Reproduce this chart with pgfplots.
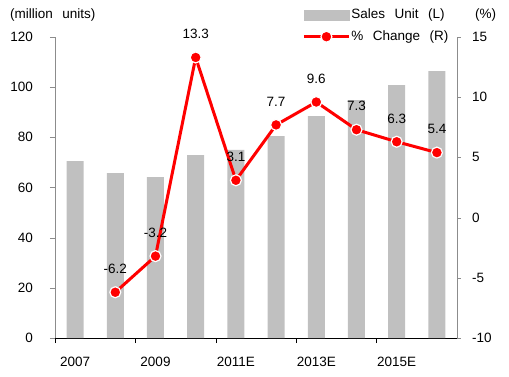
\documentclass[border=0pt]{standalone}
\usepackage{pgfplots}
\pgfplotsset{compat=1.18}
\usepackage{fontspec}
\setmainfont{Liberation Sans}
\definecolor{barcol}{HTML}{C0C0C0}
\definecolor{axgray}{HTML}{8C8C8C}
\newcommand{\ws}{\hspace{0.7em}}
\pgfplotsset{my line legend/.style={legend image code/.code={\draw[mark repeat=2, mark phase=2, ##1] plot coordinates {(0pt,0pt) (22.5pt,0pt) (45pt,0pt)};}}}
\begin{document}
\fontsize{13.5}{16}\selectfont
\begin{tikzpicture}
\begin{axis}[
  name=ax,
  scale only axis, width=402pt, height=301pt,
  xmin=-0.5, xmax=9.5, ymin=0, ymax=120,
  axis x line*=bottom, axis y line*=left,
  x axis line style={black, -}, y axis line style={axgray, -},
  ytick={0,20,...,120},
  xtick={0,2,4,6,8}, xticklabels={2007,2009,2011E,2013E,2015E},
  minor xtick={-0.5,1.5,3.5,5.5,7.5},
  tick align=outside, major x tick style={draw=none},
  minor tick length=5pt, major tick length=5pt,
  minor x tick style={black},
  major y tick style={axgray},
  tick label style={font=\fontsize{13.5}{16}\selectfont},
  /pgf/number format/assume math mode=true,
  xticklabel style={anchor=north, inner sep=0pt, yshift=-14pt},
  yticklabel style={anchor=east, inner sep=0pt, xshift=-17pt},
  clip=false,
]
\addplot[ybar, bar width=17pt, fill=barcol, draw=none] coordinates {
 (0,70.5) (1,65.7) (2,64.1) (3,72.9) (4,75) (5,80.5) (6,88.5) (7,94.8) (8,100.8) (9,106.4)};
\end{axis}
\begin{axis}[
  scale only axis, width=402pt, height=301pt,
  xmin=-0.5, xmax=9.5, ymin=-10, ymax=15,
  axis x line=none, axis y line*=right,
  y axis line style={axgray, -},
  ytick={-10,-5,...,15},
  tick align=outside, major tick length=4pt,
  major y tick style={axgray},
  tick label style={font=\fontsize{13.5}{16}\selectfont},
  /pgf/number format/assume math mode=true,
  yticklabel style={anchor=west, inner sep=0pt, xshift=11pt},
  clip=false,
  legend style={draw=none, fill=none, at={(rel axis cs:0.615,1.097)}, anchor=north west,
    font=\fontsize{13.5}{16}\selectfont, row sep=8pt, inner sep=0pt,
    nodes={inner sep=1pt}},
  legend cell align=left,
]
\addlegendimage{legend image code/.code={\fill[barcol] (0pt,-5pt) rectangle (45pt,5pt);}}
\addlegendentry{Sales\ws Unit\ws (L)}
\addplot[red, line width=3pt, mark=*, mark size=5.5pt,
  mark options={fill=red, draw=white, line width=1.2pt},
  point meta=explicit symbolic,
  nodes near coords,
  every node near coord/.style={anchor=south, inner sep=0pt, yshift=18pt, text=black, font=\fontsize{13.5}{16}\selectfont},
  my line legend,
] table[meta=lab] {
x y lab
1 -6.2 -6.2
2 -3.2 -3.2
3 13.3 13.3
4 3.1 3.1
5 7.7 7.7
6 9.6 9.6
7 7.3 7.3
8 6.3 6.3
9 5.4 5.4
};
\addlegendentry{\%\ws Change\ws (R)}
\end{axis}
\node[anchor=west, inner sep=0pt] at ([xshift=-45pt,yshift=323pt]ax.south west) {(million\ws units)};
\node[anchor=west, inner sep=0pt] at ([xshift=420pt,yshift=323pt]ax.south west) {(\%)};
\pgfresetboundingbox
\path[use as bounding box] ([xshift=-55pt,yshift=-38pt]ax.south west) rectangle ++(509pt,376pt);
\end{tikzpicture}
\end{document}
